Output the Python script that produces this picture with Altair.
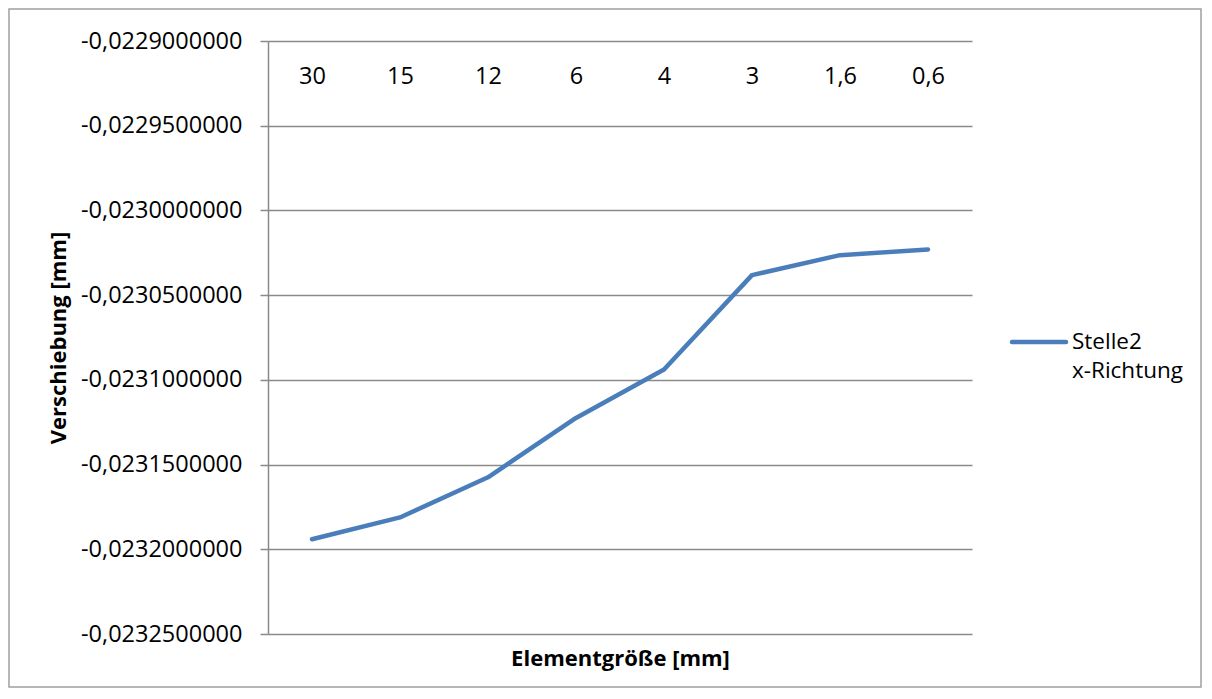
import altair as alt
import pandas as pd

# ---- data ----
categories = ["30", "15", "12", "6", "4", "3", "1,6", "0,6"]
values = [-0.02319407, -0.0231812, -0.0231575, -0.0231225,
          -0.0230939, -0.0230382, -0.0230264, -0.0230230]
series_name = "Stelle2 x-Richtung"
y_ticks = [-0.0229, -0.02295, -0.0230, -0.02305, -0.0231, -0.02315, -0.0232, -0.02325]
legend_lines = ["Stelle2", "x-Richtung"]

df = pd.DataFrame({"Elementgröße": categories, "Verschiebung": values, "Serie": series_name})

W, H = 704, 593
PAD_L, PAD_T = 260, 33
TOT_W, TOT_H = 1194, 680
FONT = "Open Sans"
BLUE = "#4A7EBB"
GRID = "#8A8A8A"
LBL = 23.5

y_label_expr = "'-' + replace(format(abs(datum.value), '.10f'), '.', ',')"

line = alt.Chart(df).mark_line(
    color=BLUE, strokeWidth=4.5, strokeCap="round", strokeJoin="round"
).encode(
    x=alt.X(
        "Elementgröße:N",
        sort=categories,
        scale=alt.Scale(type="point", padding=0.5),
        axis=alt.Axis(
            orient="bottom", offset=-H, domain=False, ticks=False, tickSize=0, grid=False,
            labelAngle=0, labelFont=FONT, labelFontSize=LBL, labelColor="black",
            labelBaseline="alphabetic", labelPadding=42,
            title="Elementgröße [mm]", titleFont=FONT, titleFontSize=22, titleFontWeight="bold",
            titleColor="black", titleBaseline="alphabetic", titleY=624, titleX=W / 2,
            titleAlign="center",
        ),
    ),
    y=alt.Y(
        "Verschiebung:Q",
        scale=alt.Scale(domain=[-0.02325, -0.0229], nice=False, zero=False),
        axis=alt.Axis(
            values=y_ticks, labelExpr=y_label_expr,
            labelFont=FONT, labelFontSize=LBL, labelColor="black", labelPadding=18,
            labelBaseline="middle",
            domain=True, domainColor=GRID, domainWidth=1.5,
            ticks=True, tickColor=GRID, tickWidth=1.5, tickSize=8,
            grid=True, gridColor=GRID, gridWidth=1.5,
            title="Verschiebung [mm]", titleFont=FONT, titleFontSize=22,
            titleFontWeight="bold", titleColor="black", titleAngle=270,
            titleBaseline="middle", titleAlign="center", titleX=-210, titleY=H / 2,
        ),
    ),
)

one = pd.DataFrame({"k": [0]})

legend_symbol = alt.Chart(one).mark_rule(
    color=BLUE, strokeWidth=4.5, strokeCap="round"
).encode(x=alt.value(744), x2=alt.value(798), y=alt.value(301))

legend_text1 = alt.Chart(one).mark_text(
    text=legend_lines[0], font=FONT, fontSize=22.5, align="left", baseline="alphabetic", color="black"
).encode(x=alt.value(804), y=alt.value(308))

legend_text2 = alt.Chart(one).mark_text(
    text=legend_lines[1], font=FONT, fontSize=22.5, align="left", baseline="alphabetic", color="black"
).encode(x=alt.value(804), y=alt.value(337))

frame = alt.Chart(one).mark_rect(
    fill=None, stroke="#A0A0A0", strokeWidth=1.5, clip=False
).encode(
    x=alt.value(-PAD_L + 1), x2=alt.value(TOT_W - PAD_L - 1),
    y=alt.value(-PAD_T + 1), y2=alt.value(TOT_H - PAD_T - 1),
)

chart = alt.layer(frame, line, legend_symbol, legend_text1, legend_text2).properties(
    width=W, height=H,
    autosize=alt.AutoSizeParams(type="none"),
    padding={"left": PAD_L, "top": PAD_T, "right": TOT_W - PAD_L - W, "bottom": TOT_H - PAD_T - H},
    background="white",
).configure_view(stroke=None)

chart.save("out.html", embed_options={"renderer": "svg", "actions": False})
